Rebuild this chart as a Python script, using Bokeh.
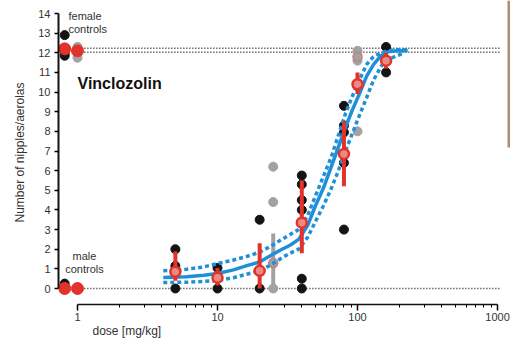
from bokeh.plotting import figure
from bokeh.models import Range1d, FixedTicker, Label, BoxAnnotation, BasicTickFormatter, Title
from bokeh.embed import file_html
from bokeh.resources import INLINE

# ---------------- data ----------------
# control groups are plotted at two nominal positions left of dose 1
ctrl_dose = [0.81, 1.0, 0.81, 1.0]
ctrl_val = [12.2, 12.1, 0.0, 0.0]

# individual animals, main study (black)
black_dose = [0.81, 0.81, 0.81, 0.81, 5, 5, 5, 10, 10, 20, 20, 40, 40, 40, 40, 40, 40,
              80, 80, 80, 80, 80, 160, 160]
black_val = [12.9, 12.0, 11.85, 0.25, 2.0, 1.15, 0.0, 1.05, 0.0, 3.5, 0.0, 5.75, 5.3, 4.5, 4.0, 0.5, 0.0,
             9.3, 8.3, 7.95, 6.4, 3.0, 12.3, 11.0]

# individual animals, second study (grey)
grey_dose = [1.0, 1.0, 25, 25, 25, 100, 100, 100]
grey_val = [11.75, 12.3, 6.2, 4.4, 0.0, 12.1, 11.6, 8.0]

# group means and error bars (red, main study)
mean_dose = [5, 10, 20, 40, 80, 100, 160]
mean_val = [0.85, 0.55, 0.9, 3.35, 6.85, 10.4, 11.6]
mean_lo = [0.4, 0.15, 0.0, 1.8, 5.2, 9.9, 11.2]
mean_hi = [1.9, 1.05, 2.3, 5.5, 8.5, 11.0, 12.0]

# group means and error bars (grey, second study)
gmean_dose = [25, 100]
gmean_val = [1.3, 11.8]
gmean_lo = [0.0, 11.4]
gmean_hi = [2.8, 12.2]

# control reference levels (dotted lines)
ref_levels = [12.23, 12.03, 0.0]
ref_from = 1.12
ref_to = 1050

# fitted dose-response curve and its confidence band
fit_dose = [4.1, 6, 8, 10, 13, 16, 20, 24, 28, 33, 38, 44, 50, 57, 65, 73, 82, 92,
            103, 116, 130, 147, 165, 190, 228]
fit_mid = [0.56, 0.6, 0.67, 0.76, 0.95, 1.15, 1.35, 1.68, 1.95, 2.2, 2.5, 3.2, 4.2, 5.1,
           6.2, 7.2, 8.2, 9.1, 9.9, 10.8, 11.4, 11.85, 12.05, 12.1, 12.1]
fit_hi = [0.9, 0.98, 1.1, 1.27, 1.45, 1.62, 1.85, 2.15, 2.45, 2.75, 3.0, 3.7, 4.7, 5.7,
          6.7, 7.8, 8.9, 9.8, 10.6, 11.4, 11.8, 12.0, 12.1, 12.15, 12.15]
fit_lo_dose = [4.1, 6, 8, 10, 13, 16, 20, 24, 28, 33, 38, 44, 50, 57, 65, 73, 82, 92,
               103, 116, 130, 147, 165, 190, 209]
fit_lo = [0.3, 0.32, 0.36, 0.4, 0.55, 0.72, 0.9, 1.2, 1.5, 1.8, 2.0, 2.6, 3.4, 4.2,
          5.1, 6.0, 7.0, 7.9, 8.8, 9.7, 10.6, 11.3, 11.65, 11.85, 11.95]

x_ticks = [1, 10, 100, 1000]
x_minor = [2, 3, 4, 5, 6, 7, 8, 9, 20, 30, 40, 50, 60, 70, 80, 90,
           200, 300, 400, 500, 600, 700, 800, 900]
y_ticks = list(range(0, 15))

# ---------------- styling ----------------
RED = "#E2332B"
BLUE = "#1E90DA"
GREY = "#A2A2A2"
BLACK = "#141414"
FONT = "Liberation Sans"
TXT = "#333333"

p = figure(width=510, height=343, x_axis_type="log",
           x_range=Range1d(0.7316, 1238), y_range=Range1d(-0.8145, 14.662),
           output_backend="svg", toolbar_location=None,
           min_border_left=58, min_border_right=0, min_border_top=0, min_border_bottom=39)
p.outline_line_color = None
p.grid.visible = False
p.background_fill_color = "white"
p.border_fill_color = "white"

# axes
xa = p.xaxis[0]
xa.ticker = FixedTicker(ticks=x_ticks, minor_ticks=x_minor)
xa.formatter = BasicTickFormatter()
xa.bounds = (1, 1000)
xa.axis_line_width = 1.5
xa.axis_line_color = BLACK
xa.major_tick_out = 6
xa.major_tick_in = 0
xa.minor_tick_out = 3
xa.minor_tick_in = 0
xa.major_tick_line_width = 1.5
xa.major_label_standoff = 2
xa.major_label_text_font = FONT
xa.major_label_text_font_size = "11px"
xa.major_label_text_color = TXT

ya = p.yaxis[0]
ya.ticker = FixedTicker(ticks=y_ticks)
ya.bounds = (0, 14)
ya.axis_line_width = 2
ya.axis_line_color = BLACK
ya.major_tick_out = 4
ya.major_tick_in = 0
ya.minor_tick_out = 0
ya.minor_tick_in = 0
ya.major_tick_line_width = 1.5
ya.major_label_standoff = 4
ya.major_label_text_font = FONT
ya.major_label_text_font_size = "11px"
ya.major_label_text_color = TXT
ya.axis_label = "Number of nipples/aerolas"
ya.axis_label_standoff = 8
ya.axis_label_text_font = FONT
ya.axis_label_text_font_size = "12px"
ya.axis_label_text_font_style = "normal"
ya.axis_label_text_color = TXT

# x axis title, left-aligned under the axis
p.add_layout(Title(text="dose [mg/kg]", align="left", offset=34, standoff=0,
                   vertical_align="top", text_font=FONT, text_font_size="12px",
                   text_font_style="normal", text_color=TXT), "below")

# dotted control reference lines
p.segment(x0=[ref_from] * len(ref_levels), x1=[ref_to] * len(ref_levels),
          y0=ref_levels, y1=ref_levels, line_color="#222222", line_width=1.6, line_dash="1 2")

# individual animals
p.scatter(black_dose, black_val, size=9, fill_color=BLACK, line_color=BLACK)
p.scatter(grey_dose, grey_val, size=9, fill_color=GREY, line_color=GREY)

# grey study mean and error bars
p.segment(x0=gmean_dose, x1=gmean_dose, y0=gmean_lo, y1=gmean_hi, line_color=GREY, line_width=4)
p.scatter(gmean_dose, gmean_val, size=9, fill_color=GREY, line_color="#C08080", line_width=1.5)

# fitted curve and confidence band
p.line(fit_dose, fit_mid, line_color=BLUE, line_width=3.5)
p.line(fit_dose, fit_hi, line_color=BLUE, line_width=3.5, line_dash="4 3")
p.line(fit_lo_dose, fit_lo, line_color=BLUE, line_width=3.5, line_dash="4 3")

# red means with error bars
p.segment(x0=mean_dose, x1=mean_dose, y0=mean_lo, y1=mean_hi, line_color=RED, line_width=4)
p.scatter(mean_dose, mean_val, size=10, fill_color="#E98A84", line_color=RED, line_width=2.5)

# control means
p.scatter(ctrl_dose, ctrl_val, size=12, fill_color=RED, line_color=RED)

# texts (screen units are measured from the frame's bottom-left corner)
def lab(text, x, y, size="11px", align="left", style="normal", color=TXT):
    p.add_layout(Label(x=x, y=y, x_units="screen", y_units="screen", text=text,
                       text_font=FONT, text_font_size=size, text_color=color,
                       text_align=align, text_baseline="middle", text_font_style=style))

lab("female", 10, 289)
lab("controls", 10, 276)
lab("male", 26, 49, align="center")
lab("controls", 26, 36, align="center")
lab("Vinclozolin", 19, 221, size="16px", style="bold", color="#111111")

# brown strip at the right edge of the scanned figure
p.add_layout(BoxAnnotation(left=449, right=452, top=304, bottom=157,
                           left_units="screen", right_units="screen",
                           top_units="screen", bottom_units="screen",
                           fill_color="#A97F5E", fill_alpha=0.9, line_color=None))

open("out.html", "w").write(file_html(p, INLINE))
